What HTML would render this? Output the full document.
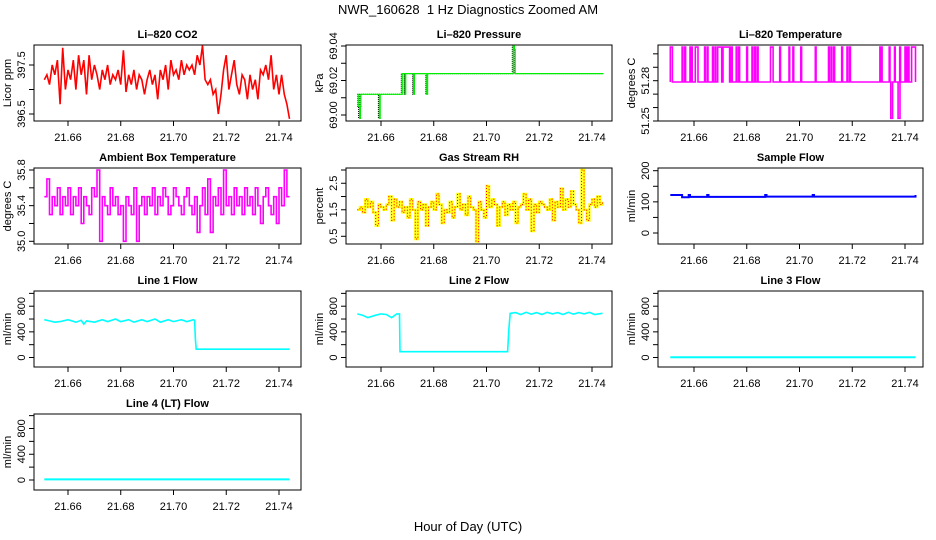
<!DOCTYPE html>
<html><head><meta charset="utf-8"><style>
html,body{margin:0;padding:0;background:#fff;}
svg{display:block;font-family:"Liberation Sans",Arial,sans-serif;}
</style></head><body>
<svg id="chart" width="936" height="540" viewBox="0 0 936 540" xmlns="http://www.w3.org/2000/svg">
<text x="468" y="14" font-size="13" text-anchor="middle">NWR_160628&#160; 1 Hz Diagnostics Zoomed AM</text>
<text x="468" y="531" font-size="13" text-anchor="middle">Hour of Day (UTC)</text>
</svg>
<script>
// ---- data ----
const tStart = 21.651, tStep = 0.001;
const xTicks = [21.66, 21.68, 21.70, 21.72, 21.74];
const xTickLabels = ["21.66", "21.68", "21.70", "21.72", "21.74"];
const co2Vals = [397.2,397.3,397.1,397.5,397.3,397.6,396.7,397.85,397.0,397.4,
397.2,397.6,397.0,397.7,397.3,397.6,396.9,397.7,397.2,397.5,
397.3,397.0,397.4,397.2,397.5,397.1,397.3,397.2,397.4,397.1,
397.8,396.95,397.3,397.1,397.4,397.0,397.3,397.2,396.9,397.2,
397.4,397.1,397.3,396.8,397.4,397.2,397.5,397.0,397.6,397.3,
397.4,397.2,397.6,397.3,397.5,397.4,397.5,397.3,397.7,397.5,
397.9,397.2,397.1,397.2,396.9,397.0,396.5,396.9,397.4,397.7,
397.0,397.3,397.6,397.1,396.9,397.3,397.2,396.8,397.3,397.0,
397.2,396.8,397.4,397.3,397.5,397.2,397.7,397.0,397.3,396.9,
397.3,396.9,396.7,396.4];
const pressTimes = [21.651,21.6512,21.6515,21.6518,21.652,21.6588,21.659,21.6593,21.6675,21.6677,21.6685,21.6688,21.669,21.6715,21.672,21.6723,21.6765,21.677,21.6773,21.7095,21.7098,21.7102,21.7105,21.744];
const pressVals = [69.012,69.005,68.998,69.005,69.012,69.012,68.998,69.012,69.012,69.024,69.024,69.012,69.024,69.024,69.012,69.024,69.024,69.012,69.024,69.024,69.04,69.038,69.024,69.024];
const tempBase = 51.279;
const tempHigh = 51.305;
const tempHighStart = [21.651,21.6555,21.6565,21.6585,21.659,21.6605,21.664,21.665,21.667,21.668,21.669,21.671,21.674,21.676,21.677,21.680,21.682,21.683,21.684,21.689,21.6925,21.696,21.6975,21.7005,21.706,21.711,21.712,21.713,21.716,21.718,21.719,21.7305,21.731,21.734,21.736,21.738,21.740,21.741,21.7425];
const tempHighEnd   = [21.6518,21.6558,21.6568,21.6588,21.6593,21.6615,21.6643,21.6653,21.6673,21.6683,21.6705,21.6735,21.6745,21.6763,21.6773,21.6803,21.6823,21.6833,21.6843,21.690,21.6928,21.6963,21.6978,21.7008,21.7063,21.7113,21.7123,21.7133,21.7163,21.7183,21.7193,21.7308,21.7313,21.7343,21.7363,21.7383,21.7405,21.7415,21.744];
const tempLowStart = [21.7346,21.7374];
const tempLowEnd = [21.7353,21.7381];
const tempLow = 51.252;
const ambVals = [35.5,35.7,35.3,35.5,35.4,35.6,35.3,35.5,35.4,35.6,
35.3,35.5,35.4,35.6,35.2,35.5,35.4,35.3,35.6,35.5,
35.8,35.0,35.5,35.4,35.3,35.6,35.4,35.5,35.3,35.4,
35.0,35.5,35.4,35.3,35.6,35.0,35.4,35.5,35.3,35.5,
35.4,35.6,35.3,35.5,35.4,35.6,35.5,35.3,35.4,35.6,
35.5,35.4,35.3,35.5,35.6,35.4,35.3,35.5,35.1,35.4,
35.6,35.3,35.7,35.1,35.5,35.4,35.6,35.3,35.8,35.4,
35.5,35.3,35.6,35.4,35.5,35.3,35.6,35.4,35.5,35.3,
35.6,35.4,35.2,35.5,35.6,35.4,35.3,35.5,35.2,35.6,
35.4,35.8,35.5,35.5];
const rhVals = [1.5,1.6,1.4,1.9,1.6,1.8,1.4,0.9,1.7,1.6,
1.5,1.7,2.0,1.1,1.9,1.6,1.8,1.4,1.6,1.2,
1.9,1.5,0.4,1.8,1.5,1.7,0.9,1.6,1.8,1.5,
2.1,1.7,1.0,1.5,1.4,1.8,1.2,1.6,2.1,1.5,
1.7,1.3,2.0,1.6,1.5,0.3,1.8,1.5,1.2,2.4,
1.6,1.9,1.7,0.9,1.6,1.8,1.3,1.7,1.5,1.8,
1.0,1.6,1.7,2.1,1.5,1.9,0.7,1.7,1.4,1.8,
1.7,1.6,1.5,1.9,1.1,1.8,1.6,2.3,1.5,1.9,
1.6,2.2,1.7,1.5,1.0,3.0,1.5,1.1,1.7,1.9,
1.6,2.0,1.7,1.8];
const sampleTimes = [21.651,21.655,21.6555,21.658,21.6585,21.665,21.6655,21.687,21.6875,21.705,21.7055,21.744];
const sampleVals = [122,122,115,122,116,122,116,122,117,122,117,122];
const line1Times = [21.651,21.653,21.655,21.657,21.660,21.663,21.665,21.666,21.667,21.670,21.673,21.675,21.678,21.680,21.683,21.685,21.688,21.690,21.693,21.695,21.698,21.700,21.703,21.705,21.7075,21.708,21.7083,21.7086,21.744];
const line1Vals = [590,570,550,560,590,550,580,520,570,550,590,560,600,560,590,550,590,560,600,550,590,560,590,560,590,580,280,130,130];
const line2Times = [21.651,21.653,21.655,21.658,21.660,21.662,21.664,21.666,21.667,21.6672,21.708,21.7085,21.709,21.711,21.713,21.715,21.717,21.719,21.721,21.723,21.725,21.727,21.729,21.731,21.733,21.735,21.737,21.739,21.741,21.744];
const line2Vals = [680,660,620,660,680,670,620,680,680,90,90,450,690,700,670,705,675,700,670,705,680,700,670,705,675,700,680,705,670,690];
const line3Times = [21.651,21.744];
const line3Vals = [5,5];
const line4Times = [21.651,21.744];
const line4Vals = [10,10];

// ---- layout ----
const colLeft = [34,346,658], colRight = [301,612,923], colX66 = [68,381,694];
const rowTop = [45,168,291,414], plotH = 76;
const pxPerHour = 2637.5;
const NS = "http://www.w3.org/2000/svg";
const svg = document.getElementById('chart');

function mk(tag, attrs, parent){ const e=document.createElementNS(NS,tag); for(const k in attrs) e.setAttribute(k,attrs[k]); (parent||svg).appendChild(e); return e; }

function panel(cfg){
  const L=colLeft[cfg.col], R=colRight[cfg.col], T=rowTop[cfg.row], B=T+plotH;
  const g=mk('g',{});
  
  
  const xs = t => colX66[cfg.col] + (t-21.66)*pxPerHour;
  const k = (cfg.p2-cfg.p1)/(cfg.v2-cfg.v1);
  const ys = v => T + cfg.p1 + (v-cfg.v1)*k;
  const title=mk('text',{x:(L+R)/2,y:T-7,'font-size':11,'font-weight':'bold','text-anchor':'middle'},g);
  title.textContent=cfg.title;
  
  
  const box=mk('rect',{x:L,y:T,width:R-L,height:plotH,fill:'none',stroke:'#000','stroke-width':1},g);
  
  
  xTicks.forEach((t,i)=>{
    const x=xs(t);
    mk('line',{x1:x,y1:B,x2:x,y2:B+5,stroke:'#000'},g);
    const tl=mk('text',{x:x,y:B+20,'font-size':11,'text-anchor':'middle'},g);
    tl.textContent=xTickLabels[i];
    
    
  });
  cfg.yTicks.forEach((v,i)=>{
    const y=ys(v);
    mk('line',{x1:L-5,y1:y,x2:L,y2:y,stroke:'#000'},g);
    if(cfg.yLabels[i]){
      const tl=mk('text',{transform:`translate(${L-9},${y}) rotate(-90)`,'font-size':11,'text-anchor':'middle'},g);
      tl.textContent=cfg.yLabels[i];
      
      
    }
  });
  const yl=mk('text',{transform:`translate(${L-23},${T+plotH/2}) rotate(-90)`,'font-size':11,'text-anchor':'middle'},g);
  yl.textContent=cfg.ylab;
  
  
  cfg.draw(g,xs,ys);
}

function linePath(times, vals, xs, ys, step){
  let d='';
  for(let i=0;i<vals.length;i++){
    const x=xs(times[i]), y=ys(vals[i]);
    if(i===0) d+=`M${x.toFixed(1)},${y.toFixed(1)}`;
    else if(step) d+=`H${x.toFixed(1)}V${y.toFixed(1)}`;
    else d+=`L${x.toFixed(1)},${y.toFixed(1)}`;
  }
  return d;
}
function idxTimes(vals){ return vals.map((v,i)=>tStart+i*tStep); }
function addPath(g,d,attrs,name){
  const p=mk('path',Object.assign({d:d,fill:'none'},attrs),g);
  
  
  return p;
}

const flowTicks=[0,200,400,600,800,1000], flowLabels=["0","","400","","800",""];

panel({name:'co2',title:'Li\u2013820 CO2',col:0,row:0,ylab:'Licor ppm',v1:397.5,p1:20,v2:396.5,p2:69,
  yTicks:[396.5,397.0,397.5],yLabels:["396.5","","397.5"],
  draw:(g,xs,ys)=>addPath(g,linePath(idxTimes(co2Vals),co2Vals,xs,ys,false),{stroke:'#ff0000','stroke-width':1.6},'co2-line')});
panel({name:'pressure',title:'Li\u2013820 Pressure',col:1,row:0,ylab:'kPa',v1:69.04,p1:1,v2:69.00,p2:70,
  yTicks:[69.00,69.01,69.02,69.03,69.04],yLabels:["69.00","","69.02","","69.04"],
  draw:(g,xs,ys)=>{const d=linePath(pressTimes,pressVals,xs,ys,true);
    addPath(g,d,{stroke:'#000','stroke-width':1,'stroke-dasharray':'1,1'},'pressure-points');
    const p=addPath(g,d,{stroke:'#00ee00','stroke-width':1.2},'pressure-line');
    p.setAttribute('transform','translate(1,0)');}});
panel({name:'li820-temp',title:'Li\u2013820 Temperature',col:2,row:0,ylab:'degrees C',v1:51.25,p1:76,v2:51.28,p2:35.7,
  yTicks:[51.25,51.26,51.27,51.28,51.29,51.30],yLabels:["51.25","","","51.28","",""],
  draw:(g,xs,ys)=>{
    const ev=[];
    tempHighStart.forEach((s,i)=>ev.push([s,tempHighEnd[i],tempHigh]));
    tempLowStart.forEach((s,i)=>ev.push([s,tempLowEnd[i],tempLow]));
    ev.sort((a,b)=>a[0]-b[0]);
    const ts=[],vs=[];
    ts.push(tStart); vs.push(tempBase);
    ev.forEach(e=>{ts.push(e[0]);vs.push(e[2]);ts.push(e[1]);vs.push(tempBase);});
    ts.push(21.744); vs.push(tempBase);
    addPath(g,linePath(ts,vs,xs,ys,true),{stroke:'#ff00ff','stroke-width':1.6},'li820-temp-line');}});
panel({name:'ambient-temp',title:'Ambient Box Temperature',col:0,row:1,ylab:'degrees C',v1:35.8,p1:2,v2:35.0,p2:73.3,
  yTicks:[35.0,35.2,35.4,35.6,35.8],yLabels:["35.0","","35.4","","35.8"],
  draw:(g,xs,ys)=>addPath(g,linePath(idxTimes(ambVals),ambVals,xs,ys,true),{stroke:'#ff00ff','stroke-width':1.6},'ambient-temp-line')});
panel({name:'rh',title:'Gas Stream RH',col:1,row:1,ylab:'percent',v1:3.0,p1:2,v2:0.5,p2:68.3,
  yTicks:[0.5,1.0,1.5,2.0,2.5,3.0],yLabels:["0.5","","1.5","","2.5",""],
  draw:(g,xs,ys)=>{const d=linePath(idxTimes(rhVals),rhVals,xs,ys,true);
    addPath(g,d,{stroke:'#ffff00','stroke-width':2.4},'rh-line');
    addPath(g,d,{stroke:'#ff0000','stroke-width':1,'stroke-dasharray':'1,2'},'rh-points');}});
panel({name:'sample-flow',title:'Sample Flow',col:2,row:1,ylab:'ml/min',v1:200,p1:2.7,v2:0,p2:65,
  yTicks:[0,50,100,150,200],yLabels:["0","","100","","200"],
  draw:(g,xs,ys)=>addPath(g,linePath(sampleTimes,sampleVals,xs,ys,true),{stroke:'#0000ff','stroke-width':2},'sample-flow-line')});
panel({name:'line1-flow',title:'Line 1 Flow',col:0,row:2,ylab:'ml/min',v1:0,p1:66.5,v2:800,p2:15.2,
  yTicks:flowTicks,yLabels:flowLabels,
  draw:(g,xs,ys)=>addPath(g,linePath(line1Times,line1Vals,xs,ys,false),{stroke:'#00ffff','stroke-width':1.6},'line1-flow-line')});
panel({name:'line2-flow',title:'Line 2 Flow',col:1,row:2,ylab:'ml/min',v1:0,p1:66.5,v2:800,p2:15.2,
  yTicks:flowTicks,yLabels:flowLabels,
  draw:(g,xs,ys)=>addPath(g,linePath(line2Times,line2Vals,xs,ys,false),{stroke:'#00ffff','stroke-width':1.6},'line2-flow-line')});
panel({name:'line3-flow',title:'Line 3 Flow',col:2,row:2,ylab:'ml/min',v1:0,p1:66.5,v2:800,p2:15.2,
  yTicks:flowTicks,yLabels:flowLabels,
  draw:(g,xs,ys)=>addPath(g,linePath(line3Times,line3Vals,xs,ys,false),{stroke:'#00ffff','stroke-width':2},'line3-flow-line')});
panel({name:'line4-flow',title:'Line 4 (LT) Flow',col:0,row:3,ylab:'ml/min',v1:0,p1:66,v2:800,p2:14.5,
  yTicks:flowTicks,yLabels:flowLabels,
  draw:(g,xs,ys)=>addPath(g,linePath(line4Times,line4Vals,xs,ys,false),{stroke:'#00ffff','stroke-width':2},'line4-flow-line')});
</script>
</body></html>
